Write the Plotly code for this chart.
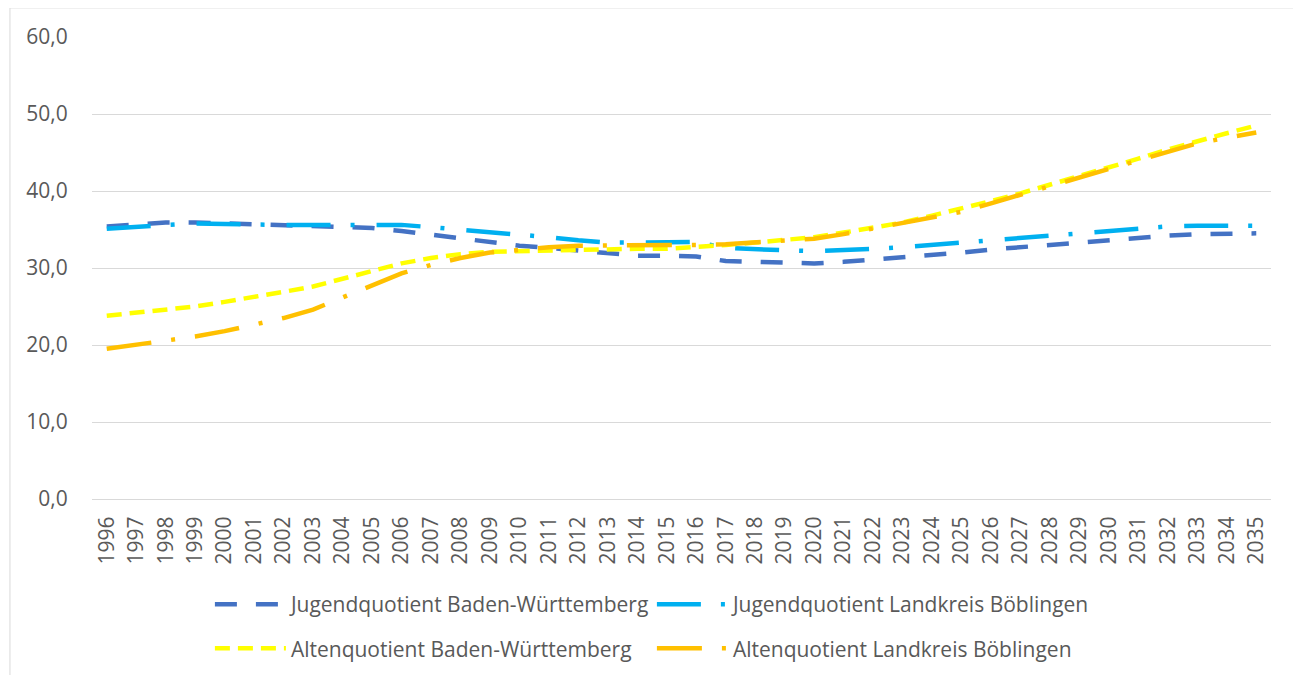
import plotly.graph_objects as go

years = list(range(1996, 2036))

jugend_bw = [35.4, 35.6, 35.9, 35.9, 35.8, 35.7, 35.6, 35.5, 35.4, 35.2,
             34.8, 34.3, 33.9, 33.3, 32.9, 32.6, 32.3, 31.9, 31.6, 31.6,
             31.5, 30.9, 30.8, 30.6, 30.6, 30.8, 31.1, 31.4, 31.6, 32.0,
             32.4, 32.7, 33.0, 33.4, 33.7, 34.0, 34.2, 34.4, 34.5, 34.5]
jugend_bb = [35.1, 35.3, 35.6, 35.8, 35.7, 35.6, 35.6, 35.6, 35.6, 35.7,
             35.6, 35.3, 35.0, 34.7, 34.3, 34.0, 33.6, 33.3, 33.3, 33.4,
             33.4, 32.6, 32.4, 32.3, 32.2, 32.3, 32.5, 32.7, 33.0, 33.3,
             33.6, 34.0, 34.3, 34.6, 34.9, 35.2, 35.4, 35.5, 35.5, 35.5]
alten_bw = [23.8, 24.2, 24.5, 25.0, 25.6, 26.2, 26.9, 27.6, 28.6, 29.6,
            30.6, 31.3, 31.8, 32.1, 32.2, 32.2, 32.3, 32.4, 32.5, 32.5,
            32.7, 33.0, 33.3, 33.6, 34.0, 34.6, 35.2, 35.9, 36.8, 37.7,
            38.7, 39.7, 40.8, 41.9, 43.0, 44.2, 45.4, 46.5, 47.5, 48.5]
alten_bb = [19.5, 20.0, 20.5, 21.1, 21.8, 22.6, 23.5, 24.6, 26.2, 27.8,
            29.3, 30.4, 31.3, 32.0, 32.4, 32.7, 32.9, 32.9, 33.0, 32.9,
            33.0, 33.1, 33.3, 33.5, 33.8, 34.4, 35.1, 35.8, 36.5, 37.3,
            38.4, 39.5, 40.6, 41.7, 42.8, 43.9, 45.1, 46.2, 46.9, 47.6]

series = [
    ("Jugendquotient Baden-Württemberg", jugend_bw, "#4472C4", "22px,19px", "legend"),
    ("Jugendquotient Landkreis Böblingen", jugend_bb, "#00B0F0", "44px,20px,4px,22px", "legend"),
    ("Altenquotient Baden-Württemberg", alten_bw, "#FFFF00", "15px,8px", "legend2"),
    ("Altenquotient Landkreis Böblingen", alten_bb, "#FFC000", "45px,20px,4px,20px", "legend2"),
]

fig = go.Figure()
for name, values, color, dash, leg in series:
    fig.add_trace(
        go.Scatter(
            x=years,
            y=values,
            mode="lines",
            name=name,
            line=dict(color=color, width=4.5, dash=dash),
            legend=leg,
        )
    )

legend_style = dict(
    orientation="h",
    x=0.1,
    xanchor="left",
    yanchor="middle",
    font=dict(size=21, color="#595959"),
    itemwidth=71,
    entrywidth=356,
    bgcolor="rgba(0,0,0,0)",
)

# page has an 8px body margin, so the figure is 8px smaller than the window
fig.update_layout(
    width=1293,
    height=667,
    paper_bgcolor="white",
    plot_bgcolor="white",
    font=dict(family="Open Sans", color="#595959"),
    separators=",.",
    margin=dict(l=84, r=30, t=29, b=176, autoexpand=False),
    legend=dict(legend_style, y=-0.2285),
    legend2=dict(legend_style, y=-0.324),
    xaxis=dict(
        range=[1995.5, 2035.5],
        tickmode="array",
        tickvals=years,
        ticktext=[str(y) for y in years],
        tickangle=-90,
        tickfont=dict(size=21, color="#595959"),
        showgrid=False,
        showline=False,
        zeroline=False,
        ticks="outside",
        ticklen=8,
        tickcolor="rgba(0,0,0,0)",
    ),
    yaxis=dict(
        range=[0, 60],
        dtick=10,
        tickformat=".1f",
        tickfont=dict(size=21, color="#595959"),
        showgrid=True,
        gridcolor="#D9D9D9",
        gridwidth=1.3,
        zeroline=True,
        zerolinecolor="#D9D9D9",
        zerolinewidth=1.3,
        showline=False,
        ticks="outside",
        ticklen=19,
        tickcolor="rgba(0,0,0,0)",
    ),
    shapes=[
        dict(
            type="rect",
            xref="paper",
            yref="paper",
            x0=-0.0696,
            x1=1.0238,
            y0=-0.45,
            y1=1.063,
            line=dict(color="#D9D9D9", width=1),
            layer="below",
        )
    ],
)

fig.write_html("out.html")
